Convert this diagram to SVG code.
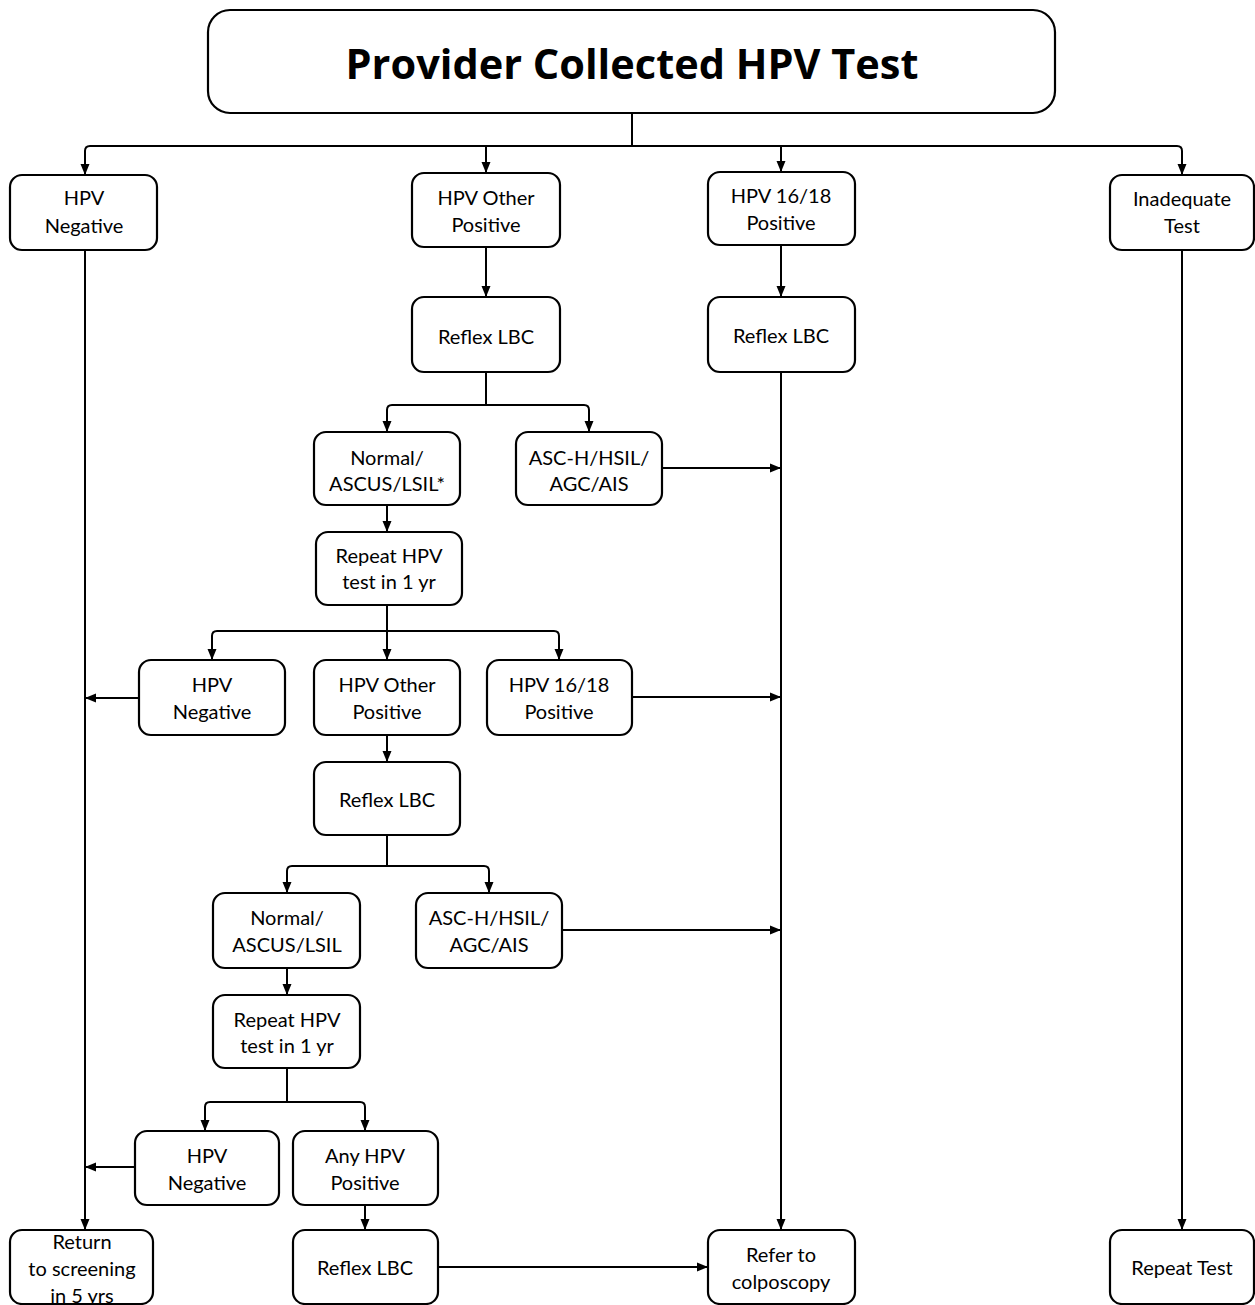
<svg xmlns="http://www.w3.org/2000/svg" width="1255" height="1305" viewBox="0 0 1255 1305">
<style>
.box{fill:#fff;stroke:#000;stroke-width:2.2}
.t{font-family:Lato,"Open Sans","Liberation Sans",sans-serif;font-size:20px;fill:#000;text-anchor:middle}
.title{font-family:"Open Sans",Lato,"Liberation Sans",sans-serif;font-size:41.5px;font-weight:bold;fill:#000;text-anchor:middle}
.c{fill:none;stroke:#000;stroke-width:2}
</style>
<defs>
<marker id="ah" markerUnits="userSpaceOnUse" markerWidth="12" markerHeight="12" viewBox="0 0 12 12" refX="11" refY="6" orient="auto">
<path d="M0,1.5 L11,6 L0,10.5 Z" fill="#000"/>
</marker>
</defs>
<g id="connectors">
<path class="c" d="M632,113 V146"/>
<path class="c" d="M632,146 H90 Q85,146 85,151 V175" marker-end="url(#ah)"/>
<path class="c" d="M486,146 V173" marker-end="url(#ah)"/>
<path class="c" d="M632,146 H781 V172" marker-end="url(#ah)"/>
<path class="c" d="M781,146 H1177 Q1182,146 1182,151 V175" marker-end="url(#ah)"/>
<path class="c" d="M486,247 V297" marker-end="url(#ah)"/>
<path class="c" d="M781,245 V297" marker-end="url(#ah)"/>
<path class="c" d="M85,250 V1230" marker-end="url(#ah)"/>
<path class="c" d="M781,372 V1230" marker-end="url(#ah)"/>
<path class="c" d="M1182,250 V1230" marker-end="url(#ah)"/>
<path class="c" d="M486,372 V405"/>
<path class="c" d="M486,405 H392 Q387,405 387,410 V432" marker-end="url(#ah)"/>
<path class="c" d="M486,405 H584 Q589,405 589,410 V432" marker-end="url(#ah)"/>
<path class="c" d="M662,468 H781" marker-end="url(#ah)"/>
<path class="c" d="M387,505 V532" marker-end="url(#ah)"/>
<path class="c" d="M387,605 V660" marker-end="url(#ah)"/>
<path class="c" d="M387,631 H217 Q212,631 212,636 V660" marker-end="url(#ah)"/>
<path class="c" d="M387,631 H554 Q559,631 559,636 V660" marker-end="url(#ah)"/>
<path class="c" d="M139,698 H85" marker-end="url(#ah)"/>
<path class="c" d="M632,697 H781" marker-end="url(#ah)"/>
<path class="c" d="M387,735 V762" marker-end="url(#ah)"/>
<path class="c" d="M387,835 V866"/>
<path class="c" d="M387,866 H292 Q287,866 287,871 V893" marker-end="url(#ah)"/>
<path class="c" d="M387,866 H484 Q489,866 489,871 V893" marker-end="url(#ah)"/>
<path class="c" d="M562,930 H781" marker-end="url(#ah)"/>
<path class="c" d="M287,968 V995" marker-end="url(#ah)"/>
<path class="c" d="M287,1068 V1102"/>
<path class="c" d="M287,1102 H210 Q205,1102 205,1107 V1131" marker-end="url(#ah)"/>
<path class="c" d="M287,1102 H360 Q365,1102 365,1107 V1131" marker-end="url(#ah)"/>
<path class="c" d="M135,1167 H85" marker-end="url(#ah)"/>
<path class="c" d="M365,1205 V1230" marker-end="url(#ah)"/>
<path class="c" d="M438,1267 H708" marker-end="url(#ah)"/>
</g>
<g id="title"><rect class="box" x="208" y="10" width="847" height="103" rx="22"/><text class="title" x="632" y="79">Provider Collected HPV Test</text></g>
<g id="hpvneg1"><rect class="box" x="10" y="175" width="147" height="75" rx="12"/><text class="t" x="84" y="205">HPV</text><text class="t" x="84" y="233">Negative</text></g>
<g id="hpvother1"><rect class="box" x="412" y="173" width="148" height="74" rx="12"/><text class="t" x="486" y="205">HPV Other</text><text class="t" x="486" y="232">Positive</text></g>
<g id="hpv1618a"><rect class="box" x="708" y="172" width="147" height="73" rx="12"/><text class="t" x="781" y="203">HPV 16/18</text><text class="t" x="781" y="230">Positive</text></g>
<g id="inadequate"><rect class="box" x="1110" y="175" width="144" height="75" rx="12"/><text class="t" x="1182" y="206">Inadequate</text><text class="t" x="1182" y="233">Test</text></g>
<g id="reflex1"><rect class="box" x="412" y="297" width="148" height="75" rx="12"/><text class="t" x="486" y="344">Reflex LBC</text></g>
<g id="reflex2"><rect class="box" x="708" y="297" width="147" height="75" rx="12"/><text class="t" x="781" y="343">Reflex LBC</text></g>
<g id="normal1"><rect class="box" x="314" y="432" width="146" height="73" rx="12"/><text class="t" x="387" y="465">Normal/</text><text class="t" x="387" y="491">ASCUS/LSIL*</text></g>
<g id="aschsil1"><rect class="box" x="516" y="432" width="146" height="73" rx="12"/><text class="t" x="589" y="465">ASC-H/HSIL/</text><text class="t" x="589" y="491">AGC/AIS</text></g>
<g id="repeat1"><rect class="box" x="316" y="532" width="146" height="73" rx="12"/><text class="t" x="389" y="563">Repeat HPV</text><text class="t" x="389" y="589">test in 1 yr</text></g>
<g id="hpvneg2"><rect class="box" x="139" y="660" width="146" height="75" rx="12"/><text class="t" x="212" y="692">HPV</text><text class="t" x="212" y="719">Negative</text></g>
<g id="hpvother2"><rect class="box" x="314" y="660" width="146" height="75" rx="12"/><text class="t" x="387" y="692">HPV Other</text><text class="t" x="387" y="719">Positive</text></g>
<g id="hpv1618b"><rect class="box" x="487" y="660" width="145" height="75" rx="12"/><text class="t" x="559" y="692">HPV 16/18</text><text class="t" x="559" y="719">Positive</text></g>
<g id="reflex3"><rect class="box" x="314" y="762" width="146" height="73" rx="12"/><text class="t" x="387" y="807">Reflex LBC</text></g>
<g id="normal2"><rect class="box" x="213" y="893" width="147" height="75" rx="12"/><text class="t" x="287" y="925">Normal/</text><text class="t" x="287" y="952">ASCUS/LSIL</text></g>
<g id="aschsil2"><rect class="box" x="416" y="893" width="146" height="75" rx="12"/><text class="t" x="489" y="925">ASC-H/HSIL/</text><text class="t" x="489" y="952">AGC/AIS</text></g>
<g id="repeat2"><rect class="box" x="213" y="995" width="147" height="73" rx="12"/><text class="t" x="287" y="1027">Repeat HPV</text><text class="t" x="287" y="1053">test in 1 yr</text></g>
<g id="hpvneg3"><rect class="box" x="135" y="1131" width="144" height="74" rx="12"/><text class="t" x="207" y="1163">HPV</text><text class="t" x="207" y="1190">Negative</text></g>
<g id="anyhpv"><rect class="box" x="293" y="1131" width="145" height="74" rx="12"/><text class="t" x="365" y="1163">Any HPV</text><text class="t" x="365" y="1190">Positive</text></g>
<g id="return"><rect class="box" x="10" y="1230" width="143" height="74" rx="12"/><text class="t" x="82" y="1249">Return</text><text class="t" x="82" y="1276">to screening</text><text class="t" x="82" y="1303">in 5 yrs</text></g>
<g id="reflex4"><rect class="box" x="293" y="1230" width="145" height="74" rx="12"/><text class="t" x="365" y="1275">Reflex LBC</text></g>
<g id="colpo"><rect class="box" x="708" y="1230" width="147" height="74" rx="12"/><text class="t" x="781" y="1262">Refer to</text><text class="t" x="781" y="1289">colposcopy</text></g>
<g id="repeattest"><rect class="box" x="1110" y="1230" width="144" height="74" rx="12"/><text class="t" x="1182" y="1275">Repeat Test</text></g>
</svg>
